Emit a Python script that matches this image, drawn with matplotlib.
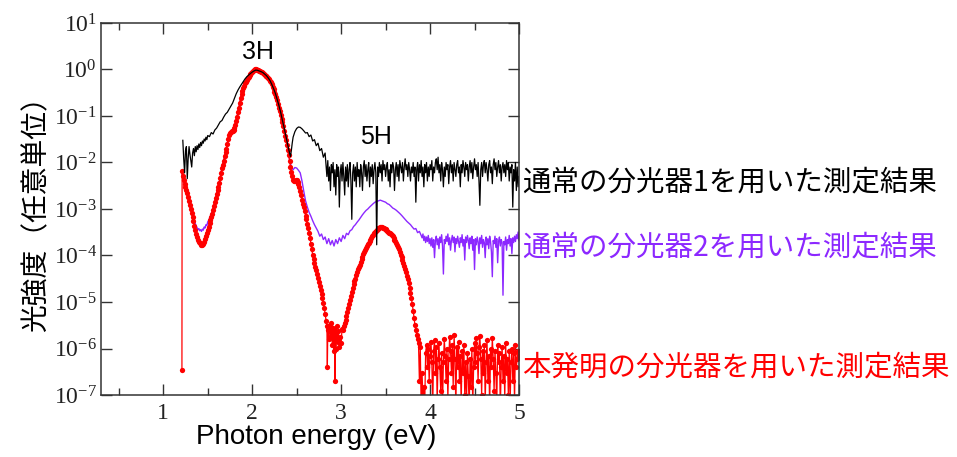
import numpy as np
import matplotlib
matplotlib.use("Agg")
import matplotlib.pyplot as plt
from matplotlib.ticker import MultipleLocator, LogLocator, NullLocator

plt.rcParams['font.family'] = ['Noto Sans CJK JP', 'DejaVu Sans']

# ---- data ----
# spectrometer 1 (black)
black_x = [1.22, 1.23, 1.24, 1.25, 1.26, 1.27, 1.28, 1.29, 1.30, 1.31, 1.32, 1.33, 1.34, 1.35,
           1.36, 1.37, 1.38, 1.39, 1.40, 1.41, 1.42, 1.43, 1.44, 1.45, 1.46, 1.47, 1.48, 1.49,
           1.50, 1.52, 1.54, 1.56, 1.58, 1.60, 1.62, 1.64, 1.66, 1.68, 1.70, 1.72, 1.74, 1.76,
           1.78, 1.80, 1.82, 1.84, 1.86, 1.88, 1.90, 1.92, 1.94, 1.96, 1.98, 2.00, 2.02, 2.04,
           2.06, 2.08, 2.10, 2.12, 2.14, 2.16, 2.18, 2.20, 2.22, 2.24, 2.26, 2.28, 2.30, 2.32,
           2.34, 2.36, 2.38, 2.40, 2.42, 2.43, 2.44, 2.45, 2.46, 2.48, 2.50, 2.52, 2.54, 2.56,
           2.58, 2.60, 2.62, 2.64, 2.66, 2.68, 2.70, 2.72, 2.74, 2.76, 2.78, 2.80, 2.82]
black_y = [3.0e-2, 1.2e-2, 6.0e-3, 1.8e-2, 2.2e-2, 4.5e-3, 1.2e-2, 2.2e-2, 1.5e-2, 1.1e-2,
           8.0e-3, 1.6e-2, 2.0e-2, 1.4e-2, 2.2e-2, 1.7e-2, 2.3e-2, 1.9e-2, 2.5e-2, 2.1e-2,
           2.7e-2, 2.3e-2, 2.9e-2, 2.6e-2, 3.2e-2, 2.9e-2, 3.5e-2, 3.1e-2, 3.8e-2, 3.6e-2,
           4.4e-2, 4.1e-2, 5.0e-2, 5.5e-2, 6.4e-2, 7.5e-2, 8.0e-2, 9.5e-2, 1.1e-1, 1.2e-1,
           1.4e-1, 1.65e-1, 1.9e-1, 2.4e-1, 3.0e-1, 3.6e-1, 4.2e-1, 4.8e-1, 5.5e-1, 6.3e-1,
           7.0e-1, 7.6e-1, 8.2e-1, 8.8e-1, 9.3e-1, 9.7e-1, 9.6e-1, 9.3e-1, 9.0e-1, 8.6e-1,
           8.0e-1, 7.4e-1, 6.6e-1, 5.8e-1, 4.8e-1, 3.9e-1, 3.1e-1, 2.3e-1, 1.7e-1, 1.2e-1,
           8.0e-2, 5.5e-2, 3.6e-2, 2.4e-2, 1.6e-2, 1.35e-2, 1.8e-2, 2.6e-2, 3.5e-2, 4.6e-2,
           5.4e-2, 5.8e-2, 5.7e-2, 5.3e-2, 4.8e-2, 4.3e-2, 4.4e-2, 3.6e-2, 3.9e-2, 2.9e-2,
           3.1e-2, 2.3e-2, 2.6e-2, 1.8e-2, 2.0e-2, 1.3e-2, 1.6e-2]
# noisy tail 2.83 - 5.00 eV
black_tail = [9e-3, 5e-3, 1.1e-2, 4e-3, 8e-3, 2.5e-3, 9e-3, 6e-3, 1.0e-2, 3e-3,
              7e-3, 2e-3, 9e-3, 5e-3, 8e-3, 1.1e-3, 6e-3, 9e-3, 4e-3, 1.0e-2,
              5e-3, 2e-3, 8e-3, 4e-3, 9e-3, 3e-3, 7e-3, 1.0e-2, 4e-3, 6e-4,
              6e-3, 9e-3, 4e-3, 8e-3, 3e-3, 1.0e-2, 5e-3, 7e-3, 3e-3, 9e-3,
              6e-3, 2.5e-3, 8e-3, 1.1e-2, 5e-3, 9e-3, 4e-3, 7e-3, 1.0e-2, 3e-3,
              8e-3, 5e-3, 9e-3, 3.5e-3, 7e-3, 1.0e-2, 6e-3, 1.7e-4, 8e-3, 5e-3,
              1.0e-2, 6e-3, 9e-3, 4e-3, 1.1e-2, 7e-3, 9e-3, 5e-3, 8e-3, 1.0e-2,
              4e-3, 7e-3, 3e-3, 9e-3, 6e-3, 1.0e-2, 8e-3, 2.5e-3, 7e-3, 1.0e-2,
              5e-3, 9e-3, 4e-3, 1.1e-2, 8e-3, 6e-3, 1.0e-2, 4e-3, 8e-3, 1.2e-2,
              7e-3, 9e-3, 5e-3, 1.0e-2, 7e-3, 4e-3, 8e-3, 6e-3, 1.0e-2, 5e-3,
              8e-3, 1.4e-3, 7e-3, 1.0e-2, 4e-3, 9e-3, 6e-3, 1.1e-2, 5e-3, 8e-3,
              3e-3, 9e-3, 6e-3, 1.0e-2, 4e-3, 8e-3, 5e-3, 9e-3, 7e-3, 1.1e-2,
              4e-3, 8e-3, 6e-3, 1.0e-2, 1.2e-2, 7e-3, 1.3e-2, 6e-3, 9e-3, 4e-3,
              1.0e-2, 7e-3, 3e-3, 8e-3, 5e-3, 1.0e-2, 7e-3, 9e-3, 3.5e-3, 8e-3,
              1.1e-2, 6e-3, 9e-3, 4e-3, 1.0e-2, 7e-3, 5e-3, 9e-3, 1.1e-2, 6e-3,
              8e-3, 3e-3, 9e-3, 6e-3, 1.1e-2, 8e-3, 5e-3, 1.0e-2, 7e-3, 9e-3,
              4e-3, 8e-3, 1.1e-2, 6e-3, 1.0e-2, 4.5e-3, 8e-3, 1.2e-2, 7e-3, 9e-3,
              5e-3, 1.0e-2, 4e-3, 1.2e-3, 7e-3, 1.0e-2, 5e-3, 9e-3, 1.1e-2, 6e-3,
              1.0e-2, 7e-3, 4e-3, 9e-3, 1.1e-2, 6e-3, 8e-3, 3.5e-3, 9e-3, 1.2e-2,
              7e-3, 1.0e-2, 5e-3, 8e-3, 1.1e-2, 6e-3, 9e-3, 4e-3, 8e-3, 1.0e-2,
              6e-3, 9e-3, 5e-3, 1.1e-2, 7e-3, 1.0e-2, 4e-3, 8e-3, 6e-3, 9e-3,
              1.1e-3, 7e-3, 4e-3, 1.0e-2, 2.5e-3, 8e-3, 3e-3, 5e-3]

# spectrometer 2 (purple)
purple_x = [1.21, 1.22, 1.24, 1.26, 1.28, 1.30, 1.32, 1.34, 1.36, 1.37, 1.38, 1.39, 1.40,
            1.41, 1.42, 1.43, 1.44, 1.45, 1.46, 1.47, 1.48, 1.49, 1.50, 1.51, 1.52, 1.54,
            1.56, 1.58, 1.60, 1.62, 1.64, 1.66, 1.68, 1.70, 1.72, 1.74, 1.76, 1.78, 1.80,
            1.82, 1.84, 1.86, 1.88, 1.90, 1.92, 1.94, 1.96, 1.98, 2.00, 2.02, 2.04, 2.06,
            2.08, 2.10, 2.12, 2.14, 2.16, 2.18, 2.20, 2.22, 2.24, 2.26, 2.28, 2.30, 2.32,
            2.34, 2.36, 2.38, 2.40, 2.42, 2.44, 2.46, 2.48, 2.50, 2.52, 2.54, 2.56, 2.58,
            2.60, 2.62, 2.64, 2.66, 2.68]
purple_y = [6.0e-3, 4.5e-3, 3.2e-3, 2.3e-3, 1.6e-3, 1.15e-3, 8.5e-4, 6.3e-4, 4.9e-4, 4.3e-4,
            4.0e-4, 3.6e-4, 3.8e-4, 3.4e-4, 3.6e-4, 3.3e-4, 3.7e-4, 3.5e-4, 4.1e-4, 3.9e-4,
            4.6e-4, 4.4e-4, 5.3e-4, 5.6e-4, 6.3e-4, 7.8e-4, 1.0e-3, 1.4e-3, 2.1e-3, 3.0e-3,
            4.7e-3, 7.5e-3, 1.1e-2, 1.65e-2, 2.5e-2, 3.9e-2, 4.6e-2, 4.8e-2, 5.6e-2, 7.8e-2,
            1.2e-1, 1.9e-1, 2.9e-1, 4.0e-1, 5.0e-1, 6.0e-1, 7.0e-1, 8.0e-1, 9.0e-1, 9.7e-1,
            1.0, 9.8e-1, 9.5e-1, 9.1e-1, 8.5e-1, 7.8e-1, 7.2e-1, 6.6e-1, 5.9e-1, 4.9e-1,
            3.9e-1, 3.0e-1, 2.2e-1, 1.6e-1, 1.1e-1, 7.6e-2, 5.0e-2, 3.1e-2, 2.0e-2, 1.2e-2,
            8.0e-3, 7.0e-3, 7.8e-3, 7.6e-3, 6.8e-3, 6.0e-3, 4.0e-3, 2.4e-3, 1.5e-3, 1.1e-3,
            8.5e-4, 7.0e-4, 5.6e-4]
# 2.70 - 3.90 eV, every 0.02 eV
purple_mid = [4.6e-4, 3.9e-4, 3.3e-4, 2.6e-4, 2.9e-4, 2.2e-4, 2.5e-4, 1.8e-4, 2.3e-4, 1.7e-4,
              2.1e-4, 1.6e-4, 2.2e-4, 1.8e-4, 2.4e-4, 2.0e-4, 2.7e-4, 2.3e-4, 3.0e-4, 2.8e-4,
              3.4e-4, 3.6e-4, 4.2e-4, 4.6e-4, 5.2e-4, 5.8e-4, 6.6e-4, 7.5e-4, 8.4e-4, 9.3e-4,
              1.0e-3, 1.1e-3, 1.2e-3, 1.3e-3, 1.4e-3, 1.45e-3, 1.5e-3, 1.55e-3, 1.5e-3, 1.45e-3,
              1.4e-3, 1.3e-3, 1.25e-3, 1.15e-3, 1.05e-3, 1.0e-3, 9.4e-4, 8.7e-4, 8.0e-4, 7.3e-4,
              6.6e-4, 6.0e-4, 5.4e-4, 5.0e-4, 4.6e-4, 4.1e-4, 3.7e-4, 3.8e-4, 3.1e-4, 3.3e-4,
              2.7e-4]
# 3.91 - 5.00 eV, every 0.01 eV
purple_tail = [2.4e-4, 2.9e-4, 2.1e-4, 2.6e-4, 1.9e-4, 2.5e-4, 2.0e-4, 2.7e-4, 1.8e-4, 2.3e-4,
               1.6e-4, 2.4e-4, 1.5e-4, 2.2e-4, 9.0e-5, 2.1e-4, 2.6e-4, 1.7e-4, 2.3e-4, 1.4e-4,
               2.5e-4, 1.9e-4, 2.8e-4, 1.6e-4, 4.0e-5, 2.2e-4, 1.8e-4, 2.6e-4, 2.0e-4, 2.9e-4,
               1.7e-4, 2.4e-4, 1.3e-4, 2.1e-4, 2.7e-4, 1.9e-4, 2.5e-4, 1.2e-4, 2.3e-4, 1.8e-4,
               2.6e-4, 2.0e-4, 1.5e-4, 2.4e-4, 1.9e-4, 2.8e-4, 1.6e-4, 2.2e-4, 8.0e-5, 2.5e-4,
               1.9e-4, 2.7e-4, 2.1e-4, 1.4e-4, 2.4e-4, 1.8e-4, 2.6e-4, 1.3e-4, 2.2e-4, 5.0e-5,
               2.3e-4, 1.7e-4, 2.5e-4, 2.0e-4, 1.1e-4, 2.4e-4, 1.8e-4, 2.7e-4, 1.5e-4, 2.2e-4,
               1.9e-4, 9.0e-5, 2.5e-4, 1.7e-4, 2.3e-4, 1.4e-4, 2.6e-4, 2.0e-4, 1.2e-4, 3.5e-5,
               2.1e-4, 1.8e-4, 2.6e-4, 1.5e-4, 2.3e-4, 7.0e-5, 2.0e-4, 2.5e-4, 1.6e-4, 2.2e-4,
               1.9e-4, 1.4e-5, 2.0e-4, 1.7e-4, 2.5e-4, 1.3e-4, 2.2e-4, 1.8e-4, 2.7e-4, 1.6e-4,
               2.3e-4, 1.1e-4, 2.4e-4, 1.9e-4, 2.6e-4, 2.0e-4, 2.8e-4, 2.3e-4, 3.2e-4, 2.1e-4]

# this invention (red, with markers)
red_x = [1.210, 1.212, 1.22, 1.23, 1.24, 1.25, 1.26, 1.27, 1.28, 1.29, 1.30, 1.31, 1.32, 1.33,
         1.34, 1.35, 1.36, 1.37, 1.38, 1.39, 1.40, 1.41, 1.42, 1.43, 1.44, 1.45, 1.46, 1.47,
         1.48, 1.49, 1.50, 1.51, 1.52, 1.53, 1.54, 1.55, 1.56, 1.57, 1.58, 1.59, 1.60, 1.61,
         1.62, 1.63, 1.64, 1.65, 1.66, 1.67, 1.68, 1.69, 1.70, 1.71, 1.72, 1.73, 1.74, 1.75,
         1.76, 1.77, 1.78, 1.79, 1.80, 1.81, 1.82, 1.83, 1.84, 1.85, 1.86, 1.87, 1.88, 1.89,
         1.90, 1.91, 1.92, 1.93, 1.94, 1.95, 1.96, 1.97, 1.98, 1.99, 2.00, 2.01, 2.02, 2.03,
         2.04, 2.05, 2.06, 2.07, 2.08, 2.09, 2.10, 2.11, 2.12, 2.13, 2.14, 2.15, 2.16, 2.17,
         2.18, 2.19, 2.20, 2.21, 2.22, 2.23, 2.24, 2.25, 2.26, 2.27, 2.28, 2.29, 2.30, 2.31,
         2.32, 2.33, 2.34, 2.35, 2.36, 2.37, 2.38, 2.39, 2.40, 2.41, 2.42, 2.43, 2.44, 2.45,
         2.46, 2.47, 2.48, 2.49, 2.50, 2.51, 2.52, 2.53, 2.54, 2.55, 2.56, 2.57, 2.58, 2.59,
         2.60, 2.61, 2.62, 2.63, 2.64, 2.65, 2.66, 2.67, 2.68, 2.69, 2.70, 2.71, 2.72, 2.73,
         2.74, 2.75, 2.76, 2.77, 2.78, 2.79, 2.80, 2.81, 2.82, 2.83, 2.84, 2.845, 2.85, 2.86,
         2.87, 2.88, 2.89, 2.90, 2.91, 2.92, 2.925, 2.93, 2.935, 2.94, 2.95, 2.96, 2.97, 2.98,
         2.99, 3.00, 3.01, 3.02, 3.03, 3.04, 3.05, 3.06, 3.07, 3.08, 3.09, 3.10, 3.11, 3.12,
         3.13, 3.14, 3.15, 3.16, 3.17, 3.18, 3.19, 3.20, 3.21, 3.22, 3.23, 3.24, 3.25, 3.26,
         3.27, 3.28, 3.29, 3.30, 3.31, 3.32, 3.33, 3.34, 3.35, 3.36, 3.37, 3.38, 3.39, 3.40,
         3.41, 3.42, 3.43, 3.44, 3.45, 3.46, 3.47, 3.48, 3.49, 3.50, 3.51, 3.52, 3.53, 3.54,
         3.55, 3.56, 3.57, 3.58, 3.59, 3.60, 3.61, 3.62, 3.63, 3.64, 3.65, 3.66, 3.67, 3.68,
         3.69, 3.70, 3.71, 3.72, 3.73, 3.74, 3.75, 3.76, 3.77, 3.78, 3.79, 3.80, 3.81, 3.82,
         3.83, 3.84, 3.85, 3.86, 3.87, 3.88, 3.89]
red_y = [3.5e-7, 6.5e-3, 5.0e-3, 4.2e-3, 3.5e-3, 2.9e-3, 2.5e-3, 2.2e-3, 1.8e-3, 1.5e-3,
         1.2e-3, 9.8e-4, 8.2e-4, 6.8e-4, 5.4e-4, 4.3e-4, 3.5e-4, 2.9e-4, 2.5e-4, 2.2e-4,
         2.0e-4, 1.9e-4, 1.8e-4, 1.7e-4, 1.7e-4, 1.8e-4, 2.0e-4, 2.3e-4, 2.6e-4, 3.0e-4,
         3.5e-4, 4.1e-4, 4.9e-4, 5.8e-4, 6.8e-4, 8.0e-4, 9.5e-4, 1.15e-3, 1.4e-3, 1.7e-3,
         2.1e-3, 2.5e-3, 3.0e-3, 3.7e-3, 4.7e-3, 6.0e-3, 7.5e-3, 9.0e-3, 1.1e-2, 1.35e-2,
         1.65e-2, 2.0e-2, 2.5e-2, 3.2e-2, 3.9e-2, 4.4e-2, 4.6e-2, 4.7e-2, 4.8e-2, 5.0e-2,
         5.6e-2, 6.5e-2, 7.8e-2, 9.5e-2, 1.2e-1, 1.5e-1, 1.9e-1, 2.4e-1, 2.9e-1, 3.4e-1,
         4.0e-1, 4.5e-1, 5.0e-1, 5.5e-1, 6.0e-1, 6.5e-1, 7.0e-1, 7.5e-1, 8.0e-1, 8.5e-1,
         9.0e-1, 9.4e-1, 9.7e-1, 1.0, 1.0, 9.9e-1, 9.8e-1, 9.6e-1, 9.4e-1, 9.2e-1,
         9.0e-1, 8.7e-1, 8.4e-1, 8.0e-1, 7.7e-1, 7.4e-1, 7.1e-1, 6.8e-1, 6.5e-1, 6.2e-1,
         5.8e-1, 5.3e-1, 4.8e-1, 4.3e-1, 3.8e-1, 3.3e-1, 2.9e-1, 2.5e-1, 2.2e-1, 1.8e-1,
         1.5e-1, 1.3e-1, 1.05e-1, 8.8e-2, 7.5e-2, 6.0e-2, 4.8e-2, 3.8e-2, 3.0e-2, 2.4e-2,
         1.9e-2, 1.45e-2, 1.1e-2, 8.0e-3, 6.2e-3, 5.0e-3, 4.3e-3, 4.0e-3, 4.1e-3, 4.2e-3,
         4.2e-3, 3.9e-3, 3.5e-3, 3.0e-3, 2.4e-3, 2.0e-3, 1.6e-3, 1.3e-3, 1.1e-3, 9.0e-4,
         7.2e-4, 6.0e-4, 4.8e-4, 3.9e-4, 3.1e-4, 2.4e-4, 1.8e-4, 1.35e-4, 1.05e-4, 8.5e-5,
         7.0e-5, 5.8e-5, 4.8e-5, 4.0e-5, 3.3e-5, 2.7e-5, 2.2e-5, 1.8e-5, 1.5e-5, 1.2e-5,
         9.5e-6, 7.5e-6, 5.5e-6, 4.0e-6, 3.0e-6, 4.0e-7, 2.5e-6, 1.6e-6, 3.2e-6, 1.8e-6,
         3.5e-6, 1.2e-6, 2.8e-6, 9.0e-7, 2.5e-6, 2.0e-7, 2.2e-6, 1.0e-6, 3.0e-6, 1.4e-6,
         2.4e-6, 1.1e-6, 1.8e-6, 1.3e-6, 2.6e-6, 2.5e-6, 3.0e-6, 3.6e-6, 4.2e-6, 5.0e-6,
         6.2e-6, 7.6e-6, 9.2e-6, 1.1e-5, 1.35e-5, 1.65e-5, 2.0e-5, 2.4e-5, 2.8e-5, 3.2e-5,
         3.8e-5, 4.4e-5, 5.0e-5, 5.7e-5, 6.4e-5, 7.3e-5, 8.3e-5, 9.4e-5, 1.06e-4, 1.18e-4,
         1.3e-4, 1.45e-4, 1.6e-4, 1.75e-4, 1.9e-4, 2.05e-4, 2.2e-4, 2.4e-4, 2.6e-4, 2.8e-4,
         3.0e-4, 3.2e-4, 3.4e-4, 3.6e-4, 3.75e-4, 3.9e-4, 4.0e-4, 4.1e-4, 4.1e-4, 4.05e-4,
         4.0e-4, 3.9e-4, 3.8e-4, 3.7e-4, 3.55e-4, 3.4e-4, 3.25e-4, 3.1e-4, 3.1e-4, 2.95e-4,
         2.8e-4, 2.6e-4, 2.4e-4, 2.2e-4, 2.05e-4, 1.85e-4, 1.65e-4, 1.5e-4, 1.35e-4, 1.2e-4,
         1.05e-4, 9.2e-5, 8.0e-5, 7.0e-5, 6.0e-5, 5.2e-5, 4.4e-5, 3.7e-5, 3.1e-5, 2.5e-5,
         2.0e-5, 1.6e-5, 1.2e-5, 9.0e-6, 6.5e-6, 4.5e-6, 3.2e-6, 2.5e-6, 2.0e-6, 1.6e-6,
         1.3e-6, 2.0e-7, 1.1e-6]
# noise floor 3.90 - 5.00 eV, every 0.01 eV
red_tail = [5e-8, 3e-7, 8e-8, 1.5e-7, 6e-8, 8e-7, 1.2e-6, 4e-7, 1.0e-6, 2e-7,
            7e-7, 1.4e-6, 5e-7, 5e-8, 9e-7, 1.5e-6, 3e-7, 1.1e-6, 7e-8, 6e-7,
            1.3e-6, 4e-7, 1.2e-7, 8e-7, 6e-8, 5e-7, 1.6e-6, 7e-7, 2e-7, 1.0e-6,
            8e-8, 6e-7, 1.8e-6, 9e-7, 3e-7, 1.2e-6, 1.5e-7, 2.0e-6, 6e-7, 5e-8,
            1.1e-6, 4e-7, 1.4e-6, 2e-7, 7e-7, 6e-8, 9e-7, 3e-7, 1.2e-6, 1e-7,
            5e-7, 7e-8, 8e-7, 2.5e-7, 5e-8, 6e-7, 1.5e-7, 1.0e-6, 6e-8, 4e-7,
            1.3e-6, 5e-7, 1.7e-6, 8e-7, 2e-7, 1.1e-6, 1.9e-6, 6e-7, 1e-7, 9e-7,
            3e-7, 1.2e-6, 7e-8, 5e-7, 1.5e-6, 2e-7, 7e-7, 5e-8, 1.0e-6, 4e-7,
            1.7e-6, 6e-7, 1.2e-7, 9e-7, 3e-7, 6e-8, 1.2e-6, 5e-7, 8e-7, 5e-8,
            4e-7, 1.1e-6, 2e-7, 7e-7, 8e-8, 1.3e-6, 3e-7, 6e-7, 1e-7, 9e-7,
            6e-8, 5e-7, 1.0e-6, 2e-7, 8e-7, 7e-8, 1.2e-6, 4e-7, 6e-7, 9e-7,
            7e-7]

label_1 = "通常の分光器1を用いた測定結果"
label_2 = "通常の分光器2を用いた測定結果"
label_3 = "本発明の分光器を用いた測定結果"
purple = '#8c28ff'

bx = np.concatenate([black_x, np.linspace(2.83, 5.00, len(black_tail))])
by = np.concatenate([black_y, black_tail])
px = np.concatenate([purple_x, np.linspace(2.70, 3.90, len(purple_mid)),
                     np.linspace(3.91, 5.00, len(purple_tail))])
py = np.concatenate([purple_y, purple_mid, purple_tail])
rx = np.concatenate([red_x, np.linspace(3.90, 5.00, len(red_tail))])
ry = np.concatenate([red_y, red_tail])

fig = plt.figure(figsize=(9.57, 4.57), dpi=100)
ax = fig.add_axes([101/957, 62/457, 418/957, 372/457])

ax.plot(px, py, color=purple, lw=1.0)
ax.plot(rx, ry, color='red', lw=0.9, marker='o', ms=3.8, mew=0)
ax.plot(bx, by, color='black', lw=0.9)

ax.set_yscale('log')
ax.set_xlim(0.3, 5.0)
ax.set_ylim(1e-7, 1e1)
ax.xaxis.set_major_locator(MultipleLocator(1))
ax.xaxis.set_minor_locator(MultipleLocator(0.5))
ax.yaxis.set_major_locator(LogLocator(base=10, numticks=20))
ax.yaxis.set_minor_locator(NullLocator())
ax.tick_params(which='both', direction='in', top=True, right=True, colors='#333333',
               labelcolor='#222222')
ax.tick_params(which='major', length=8, width=1)
ax.tick_params(which='minor', length=5, width=1)
ax.tick_params(labelsize=17, labelfontfamily='Liberation Serif')
ax.tick_params(axis='x', pad=6)
ax.tick_params(axis='y', pad=3)
for s in ax.spines.values():
    s.set_color('#333333')
    s.set_linewidth(1.1)

ax.text(2.06, 2.4, '3H', fontsize=18, family='Liberation Sans', ha='center', va='center')
ax.text(3.39, 0.035, '5H', fontsize=18, family='Liberation Sans', ha='center', va='center')

fig.text(316/957, 1 - 437/457, 'Photon energy (eV)', fontsize=20, family='Liberation Sans',
         ha='center', va='center')
fig.text(36/957, 1 - 207/457, '光強度（任意単位）', fontsize=20, rotation=90,
         ha='center', va='center')

fig.text(522/957, 1 - 182/457, label_1, fontsize=20.5, color='black', ha='left', va='center')
fig.text(522/957, 1 - 247/457, label_2, fontsize=20.5, color=purple, ha='left', va='center')
fig.text(522/957, 1 - 367/457, label_3, fontsize=20.5, color='red', ha='left', va='center')

fig.savefig('out.png', dpi=100)
